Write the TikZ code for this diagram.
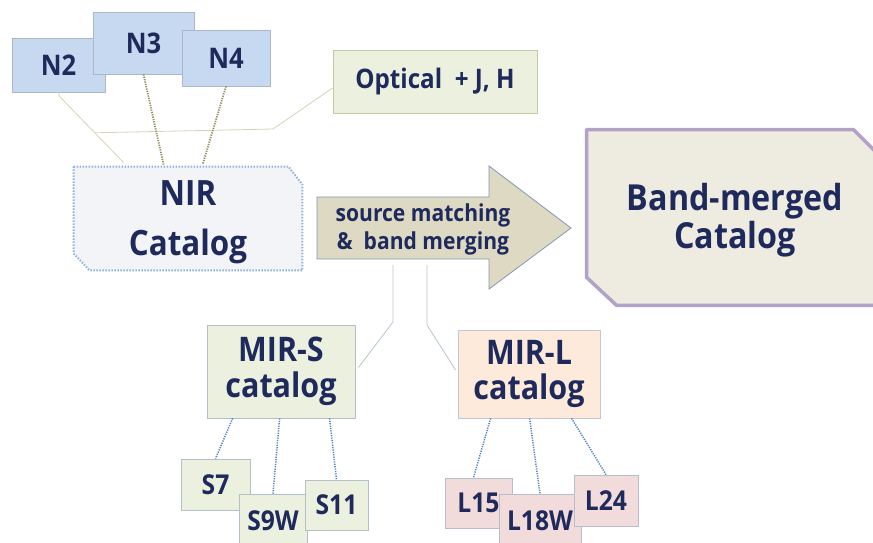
\documentclass[tikz,border=0pt]{standalone}
\usepackage{fontspec}
\setmainfont{Open Sans}[FakeStretch=0.9]
\usetikzlibrary{calc}

\definecolor{ink}{RGB}{31,42,92}
\definecolor{nfill}{RGB}{198,217,240}
\definecolor{nedge}{RGB}{170,184,196}
\definecolor{gfill}{RGB}{235,241,222}
\definecolor{gedge}{RGB}{196,201,160}
\definecolor{sedge}{RGB}{178,192,200}
\definecolor{nirfill}{RGB}{243,244,247}
\definecolor{nirdot}{RGB}{142,176,222}
\definecolor{arrfill}{RGB}{221,217,195}
\definecolor{arredge}{RGB}{132,151,176}
\definecolor{bmfill}{RGB}{238,236,225}
\definecolor{bmedge}{RGB}{179,162,199}
\definecolor{ofill}{RGB}{253,234,218}
\definecolor{oedge}{RGB}{192,200,216}
\definecolor{pfill}{RGB}{242,220,219}
\definecolor{pedge}{RGB}{184,188,203}
\definecolor{beige}{RGB}{215,211,181}
\definecolor{olive}{RGB}{148,138,84}
\definecolor{dotblue}{RGB}{79,129,189}
\definecolor{paleblue}{RGB}{185,195,211}

\tikzset{
  card/.style={rectangle, inner sep=0pt, line width=0.8bp, text=ink, align=center},
  nbox/.style={card, draw=nedge, fill=nfill, font=\fontsize{28.5}{28.5}\selectfont\bfseries},
  optbox/.style={card, draw=gedge, fill=gfill, font=\fontsize{27}{27}\selectfont\bfseries},
  mirs/.style={card, draw=sedge, fill=gfill, font=\fontsize{34}{36}\selectfont\bfseries},
  mirl/.style={card, draw=oedge, fill=ofill, font=\fontsize{34}{36}\selectfont\bfseries},
  sbox/.style={card, draw=sedge, fill=gfill, font=\fontsize{27.5}{27.5}\selectfont\bfseries},
  lbox/.style={card, draw=pedge, fill=pfill, font=\fontsize{27.5}{27.5}\selectfont\bfseries},
  bigtext/.style={card, font=\fontsize{35}{50}\selectfont\bfseries},
  bmtext/.style={card, font=\fontsize{36}{38}\selectfont\bfseries},
  mergetext/.style={card, font=\fontsize{23.5}{28}\selectfont\bfseries},
  thinbeige/.style={draw=beige, line width=0.8bp},
  olivedots/.style={draw=olive, line width=1.8bp, dash pattern=on 1.2bp off 1.2bp},
  bluedots/.style={draw=dotblue, line width=1.5bp, dash pattern=on 1.2bp off 1.2bp},
  paleline/.style={draw=paleblue, line width=0.8bp},
}

\begin{document}
\begin{tikzpicture}[x=1bp, y=-1bp]
\useasboundingbox (0,0) rectangle (873,543);

% NIR bands
\node[nbox, minimum width=93bp, minimum height=54bp] (N2) at (58.5,65) {N2};
\node[nbox, minimum width=101bp, minimum height=62bp] (N3) at (143.5,43) {N3};
\node[nbox, minimum width=88bp, minimum height=56bp] (N4) at (226,58) {N4};

% optical and J, H catalogue
\node[optbox, minimum width=204bp, minimum height=63bp] (opt) at (435,81.5) {Optical\ \ + J, H};

% NIR catalogue with chamfered corners
\node[card, minimum width=228bp, minimum height=103bp] (NIR) at (188,218.5) {};
\fill[nirfill] (NIR.north west) -- ($(NIR.north east)+(-14,0)$) -- ($(NIR.north east)+(0,18)$)
  -- (NIR.south east) -- ($(NIR.south west)+(16,0)$) -- ($(NIR.south west)+(0,-17)$) -- cycle;
\draw[draw=nirdot, line width=2bp, dash pattern=on 1.5bp off 1.5bp]
  (NIR.north west) -- ($(NIR.north east)+(-14,0)$) -- ($(NIR.north east)+(0,18)$)
  -- (NIR.south east) -- ($(NIR.south west)+(16,0)$) -- ($(NIR.south west)+(0,-17)$) -- cycle;
\node[bigtext] (NIRlbl) at ($(NIR.center)+(0,4)$) {NIR\\Catalog};

% NIR connectors
\coordinate (bend) at ($(N2.south)+(1,4)$);
\coordinate (nirtop) at ($(NIR.north west)+(50,-4)$);
\coordinate (join) at ($(bend)!0.55!(nirtop)$);
\draw[thinbeige] (N2.south) -- (bend) -- (nirtop);
\draw[thinbeige] ($(opt.west)+(0,6.5)$) -- (273,129) -- (join);
\draw[olivedots] (N3.south) -- ($(NIR.north west)+(90,-2)$);
\draw[olivedots] (N4.south) -- ($(NIR.north west)+(129,-2)$);

% merging arrow
\filldraw[fill=arrfill, draw=arredge, line width=0.8bp]
  (317,197) -- (489,197) -- (489,166) -- (571,228) -- (489,289) -- (489,259) -- (317,259) -- cycle;
\node[mergetext] (merge) at (423,229) {source matching\\\&\ \ band merging};
\coordinate (feedS) at (393,265);
\coordinate (feedL) at (427,265);

% band-merged catalogue
\node[card, minimum width=293bp, minimum height=175bp] (BM) at (733.5,217.5) {};
\filldraw[fill=bmfill, draw=bmedge, line width=3.5bp, line join=round]
  (BM.north west) -- ($(BM.north east)+(-27,0)$) -- ($(BM.north east)+(0,27)$)
  -- (BM.south east) -- ($(BM.south west)+(30,0)$) -- ($(BM.south west)+(0,-28)$) -- cycle;
\node[bmtext] (BMlbl) at (735,220) {Band-merged\\Catalog};

% MIR catalogues
\node[mirs, minimum width=148bp, minimum height=93bp] (MIRS) at (281,371.5) {MIR-S\\catalog};
\node[mirl, minimum width=142bp, minimum height=88bp] (MIRL) at (529,374) {MIR-L\\catalog};
\draw[paleline] (feedS) -- ++(0,57) -- ($(MIRS.east)+(3,-4)$);
\draw[paleline] (feedL) -- ++(0,60) -- ($(MIRL.west)+(-2,-4)$);

% MIR-S bands
\node[sbox, minimum width=69bp, minimum height=51bp] (S7) at (215.5,484.5) {S7};
\node[sbox, minimum width=68bp, minimum height=54bp] (S9W) at (273,521) {S9W};
\node[sbox, minimum width=63bp, minimum height=50bp] (S11) at (336.5,505) {S11};
\draw[bluedots] ($(MIRS.south west)+(26,0)$) -- (S7.north);
\draw[bluedots] ($(MIRS.south west)+(73,0)$) -- (S9W.north);
\draw[bluedots] ($(MIRS.south west)+(123,0)$) -- (S11.north);

% MIR-L bands
\node[lbox, minimum width=67bp, minimum height=50bp] (L15) at (478.5,503) {L15};
\node[lbox, minimum width=82bp, minimum height=54bp] (L18W) at (540,521) {L18W};
\node[lbox, minimum width=64bp, minimum height=51bp] (L24) at (606,500.5) {L24};
\draw[bluedots] ($(MIRL.south west)+(33,0)$) -- ($(L15.north)+(-5,0)$);
\draw[bluedots] ($(MIRL.south west)+(72,0)$) -- (L18W.north);
\draw[bluedots] ($(MIRL.south west)+(114,0)$) -- (L24.north);
\end{tikzpicture}
\end{document}
